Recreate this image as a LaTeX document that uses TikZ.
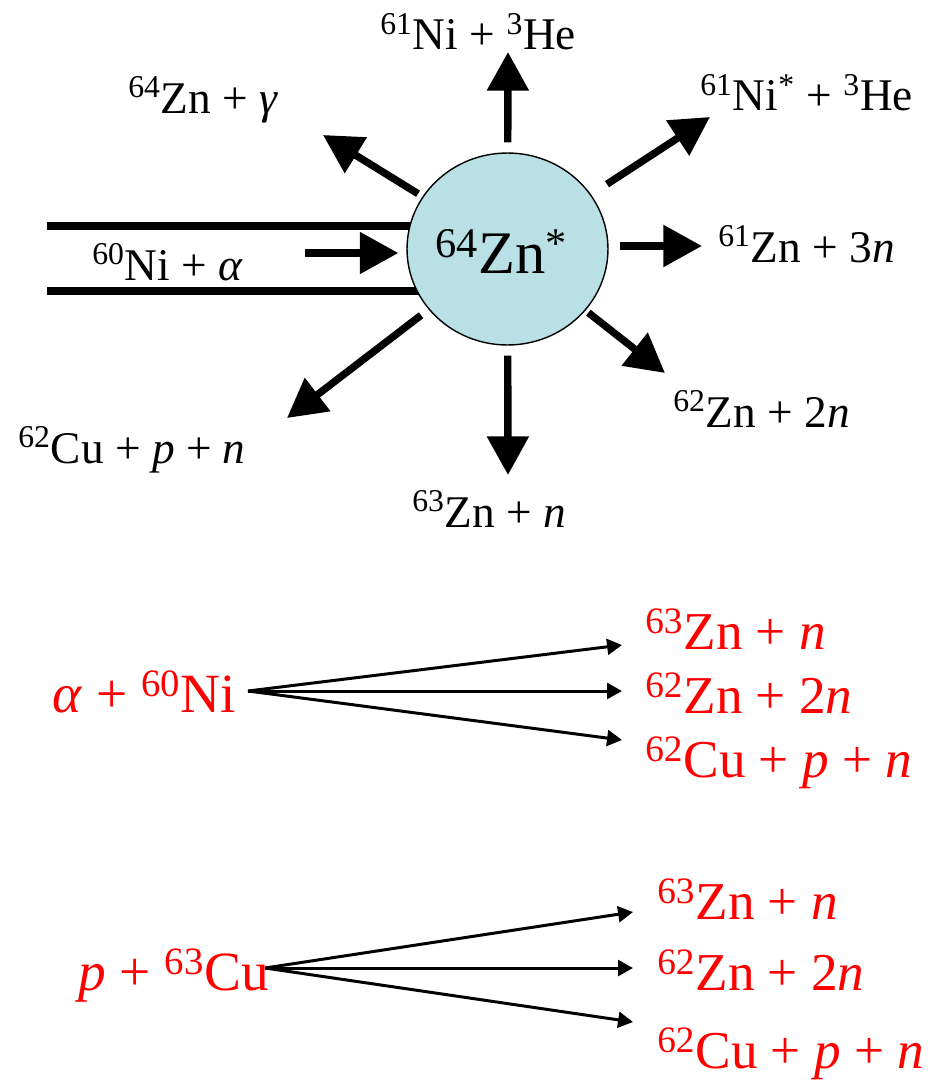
\documentclass[tikz,border=0pt]{standalone}
\usepackage{fontspec}
\setmainfont{Liberation Serif}
\newfontfamily\timesf{Liberation Serif}
\usetikzlibrary{arrows.meta,shapes.geometric,backgrounds}

\definecolor{nucblue}{RGB}{185,224,228}

\tikzset{
  nucleus/.style={ellipse, draw, line width=0.8pt, fill=nucblue,
    minimum width=4.02cm, minimum height=3.84cm, inner sep=0pt},
  bigarr/.style={line width=4.2pt, -{Triangle[length=22pt,width=23pt]}},
  tube/.style={line width=4pt},
  thinarr/.style={line width=1.7pt, -{Triangle[length=8.5pt,width=9pt]}},
  blk/.style={anchor=base west, inner sep=0pt, font=\timesf\fontsize{25.8}{30}\selectfont},
  redl/.style={anchor=base west, inner sep=0pt, text=red, font=\timesf\fontsize{31.5}{38}\selectfont},
  redr/.style={redl, font=\timesf\fontsize{30.3}{36}\selectfont},
}

\begin{document}
\begin{tikzpicture}[x=0.02cm,y=-0.02cm]
  \useasboundingbox (0,0) rectangle (936,1088);

  % compound nucleus and the beam tube
  \node[nucleus] (zn) at (507.5,249) {};
  \node[anchor=base west, inner sep=0pt, font=\timesf\fontsize{34.4}{40}\selectfont] (znlbl) at (435,273)
    {\textsuperscript{64}Zn\textsuperscript{*}};
  \coordinate (tubeT) at (47,226);
  \coordinate (tubeB) at (47,291);
  \begin{scope}[on background layer]
    \draw[tube] (tubeT) -- (tubeT -| zn.center);
    \draw[tube] (tubeB) -- (tubeB -| zn.center);
  \end{scope}
  \coordinate (beam) at (305,253);
  \draw[bigarr, shorten >=4.5pt] (beam) -- (beam -| zn.west);
  \node[blk] (nia) at (92,280) {\textsuperscript{60}Ni + \textit{α}};

  % decay channels
  \coordinate (tUp) at (508,52);
  \coordinate (tUL) at (323,135);
  \coordinate (tUR) at (710,117);
  \coordinate (tR)  at (702,246);
  \coordinate (tDR) at (665,373);
  \coordinate (tD)  at (508,475);
  \coordinate (tDL) at (287,418);
  \draw[bigarr, shorten <=5.7pt] (zn) -- (tUp);
  \draw[bigarr, shorten <=3pt]   (zn) -- (tUL);
  \draw[bigarr, shorten <=10.8pt] (zn) -- (tUR);
  \draw[bigarr, shorten <=6.3pt] (tR -| zn.east) -- (tR);
  \draw[bigarr, shorten <=2pt]   (zn) -- (tDR);
  \draw[bigarr, shorten <=5.7pt] (zn) -- (tD);
  \draw[bigarr, shorten <=5.4pt] (zn) -- (tDL);

  \node[blk] (niHe)  at (380,50)  {\textsuperscript{61}Ni + \textsuperscript{3}He};
  \node[blk] (znG)   at (128,113) {\textsuperscript{64}Zn + \textit{γ}};
  \node[blk] (niSHe) at (700,111) {\textsuperscript{61}Ni\textsuperscript{*} + \textsuperscript{3}He};
  \node[blk] (zn3n)  at (718,262) {\textsuperscript{61}Zn + 3\textit{n}};
  \node[blk] (zn2n)  at (673,427) {\textsuperscript{62}Zn + 2\textit{n}};
  \node[blk] (znn)   at (412,527) {\textsuperscript{63}Zn + \textit{n}};
  \node[blk] (cupn)  at (18,463)  {\textsuperscript{62}Cu + \textit{p} + \textit{n}};

  % alpha + 60Ni
  \node[redl] (aNi) at (52,712) {\textit{α} + \textsuperscript{60}Ni};
  \coordinate (sA) at (248,691);
  \foreach \y [count=\i] in {645,691,740} {
    \coordinate (tA\i) at (622,\y);
    \draw[thinarr] (sA) -- (tA\i);
  }
  \node[redr] (aZn1) at (645,649) {\textsuperscript{63}Zn + \textit{n}};
  \node[redr] (aZn2) at (645,713) {\textsuperscript{62}Zn + 2\textit{n}};
  \node[redr] (aCu)  at (645,777) {\textsuperscript{62}Cu + \textit{p} + \textit{n}};

  % p + 63Cu
  \node[redl] (pCu) at (78,990) {\textit{p} + \textsuperscript{63}Cu};
  \coordinate (sP) at (265,968);
  \foreach \y [count=\i] in {912,968,1022} {
    \coordinate (tP\i) at (633,\y);
    \draw[thinarr] (sP) -- (tP\i);
  }
  \node[redr] (pZn1) at (657,919)  {\textsuperscript{63}Zn + \textit{n}};
  \node[redr] (pZn2) at (657,990)  {\textsuperscript{62}Zn + 2\textit{n}};
  \node[redr] (pCu2) at (657,1068) {\textsuperscript{62}Cu + \textit{p} + \textit{n}};
\end{tikzpicture}
\end{document}
